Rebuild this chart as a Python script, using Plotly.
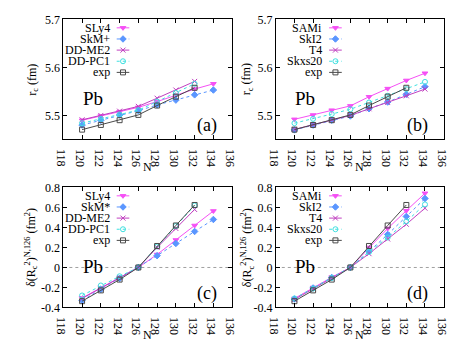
import plotly.graph_objects as go

# neutron numbers
N = [120, 122, 124, 126, 128, 130, 132, 134]
N_exp = [120, 122, 124, 126, 128, 130, 132]

# (a) charge radii r_c (fm)
sly4_r = [5.490, 5.499, 5.508, 5.517, 5.529, 5.542, 5.555, 5.566]
skmp_r = [5.480, 5.490, 5.501, 5.510, 5.522, 5.532, 5.543, 5.553]
ddme2_r = [5.491, 5.500, 5.509, 5.519, 5.536, 5.553, 5.571]
ddpc1_r = [5.484, 5.493, 5.502, 5.511, 5.529, 5.547, 5.566]
exp_r = [5.4705, 5.4803, 5.4902, 5.5012, 5.5207, 5.5392, 5.5577]

# (b) charge radii r_c (fm)
sami_r = [5.492, 5.501, 5.511, 5.520, 5.539, 5.556, 5.573, 5.588]
ski2_r = [5.470, 5.480, 5.490, 5.499, 5.514, 5.528, 5.544, 5.560]
t4_r = [5.471, 5.481, 5.491, 5.500, 5.514, 5.527, 5.541, 5.555]
skxs20_r = [5.484, 5.493, 5.503, 5.513, 5.527, 5.541, 5.555, 5.570]

# (c) differential radii d<r^2> (fm^2)
sly4_d = [-0.305, -0.205, -0.100, 0, 0.130, 0.275, 0.420, 0.565]
skms_d = [-0.330, -0.220, -0.110, 0, 0.118, 0.240, 0.360, 0.480]
ddme2_d = [-0.310, -0.205, -0.100, 0, 0.200, 0.390, 0.580]
ddpc1_d = [-0.280, -0.180, -0.088, 0, 0.210, 0.415, 0.620]
exp_d = [-0.337, -0.229, -0.121, 0, 0.215, 0.420, 0.625]

# (d) differential radii d<r^2> (fm^2)
sami_d = [-0.310, -0.200, -0.098, 0, 0.200, 0.390, 0.568, 0.742]
ski2_d = [-0.315, -0.205, -0.100, 0, 0.160, 0.330, 0.510, 0.690]
t4_d = [-0.320, -0.215, -0.105, 0, 0.138, 0.285, 0.432, 0.593]
skxs20_d = [-0.310, -0.210, -0.105, 0, 0.155, 0.300, 0.460, 0.631]

x_ticks = [118, 120, 122, 124, 126, 128, 130, 132, 134, 136]
r_ticks = [5.5, 5.6, 5.7]
r_ticktext = ["5.5", "5.6", "5.7"]
d_ticks = [-0.4, -0.2, 0, 0.2, 0.4, 0.6, 0.8]
d_ticktext = ["-0.4", "-0.2", "0", "0.2", "0.4", "0.6", "0.8"]

MAG = "#f550f5"
BLUE = "#5a96ff"
PURP = "#c040c0"
CYAN = "#3ee0e0"
GREY = "#4a4a4a"

styles = {
    "tri": dict(color=MAG, symbol="triangle-down", dash="solid", size=5),
    "dia": dict(color=BLUE, symbol="diamond", dash="dot", size=5),
    "x": dict(color=PURP, symbol="x-thin-open", dash="solid", size=5),
    "circ": dict(color=CYAN, symbol="circle-open", dash="dot", size=5),
    "sq": dict(color=GREY, symbol="square-open", dash="solid", size=5),
}

R_TITLE = "r<sub>c</sub> (fm)"
D_TITLE = "δ(R<sub>c</sub><sup>2</sup>)<sup>N,126</sup> (fm<sup>2</sup>)"

panels = [
    ("x", "y", [("SLy4", N, sly4_r, "tri"), ("SkM+", N, skmp_r, "dia"),
                ("DD-ME2", N_exp, ddme2_r, "x"), ("DD-PC1", N_exp, ddpc1_r, "circ"),
                ("exp", N_exp, exp_r, "sq")], "(a)"),
    ("x2", "y2", [("SAMi", N, sami_r, "tri"), ("SkI2", N, ski2_r, "dia"),
                  ("T4", N, t4_r, "x"), ("Skxs20", N, skxs20_r, "circ"),
                  ("exp", N_exp, exp_r, "sq")], "(b)"),
    ("x3", "y3", [("SLy4", N, sly4_d, "tri"), ("SkM*", N, skms_d, "dia"),
                  ("DD-ME2", N_exp, ddme2_d, "x"), ("DD-PC1", N_exp, ddpc1_d, "circ"),
                  ("exp", N_exp, exp_d, "sq")], "(c)"),
    ("x4", "y4", [("SAMi", N, sami_d, "tri"), ("SkI2", N, ski2_d, "dia"),
                  ("T4", N, t4_d, "x"), ("Skxs20", N, skxs20_d, "circ"),
                  ("exp", N_exp, exp_d, "sq")], "(d)"),
]

W, H = 469, 350
# plot boxes in pixels: (left, right, top, bottom) and y-title x position
boxes = [(56, 230, 13, 138, 25), (275, 448, 13, 138, 246),
         (56, 230, 188, 313, 23), (275, 448, 188, 313, 246)]

FONT = "Liberation Serif, Times New Roman, serif"
fig = go.Figure()
layout = dict(width=W, height=H, margin=dict(l=0, r=0, t=0, b=0),
              paper_bgcolor="white", plot_bgcolor="white", showlegend=False,
              font=dict(family=FONT, size=12, color="black"))
annotations = []
shapes = []

for i, (xa, ya, series, tag) in enumerate(panels):
    k = i + 1
    l, r, t, b, ytx = boxes[i]
    xdom = [l / W, r / W]
    ydom = [1 - b / H, 1 - t / H]
    pw, ph = r - l, b - t
    sfx = "" if k == 1 else str(k)
    ov = str(k + 4)
    axis_common = dict(showline=True, linecolor="black", linewidth=1, mirror="allticks",
                       ticks="inside", ticklen=4, tickcolor="black", showgrid=False,
                       zeroline=False, tickfont=dict(family=FONT, size=12))
    layout["xaxis" + sfx] = dict(domain=xdom, anchor="y" + sfx, range=[118, 136],
                                 tickvals=x_ticks, **axis_common)
    if k <= 2:
        layout["yaxis" + sfx] = dict(domain=ydom, anchor="x" + sfx, range=[5.45, 5.7],
                                     tickvals=r_ticks, ticktext=r_ticktext, **axis_common)
        ytitle = R_TITLE
    else:
        layout["yaxis" + sfx] = dict(domain=ydom, anchor="x" + sfx, range=[-0.4, 0.8],
                                     tickvals=d_ticks, ticktext=d_ticktext, **axis_common)
        ytitle = D_TITLE
        shapes.append(dict(type="line", xref=xa + " domain", yref=ya, x0=0, x1=1, y0=0, y1=0,
                           line=dict(color="#a0a0a0", width=1, dash="dot"), layer="below"))

    # axis titles
    annotations.append(dict(x=(l + r) / 2 / W, y=1 - (b + 29) / H, xref="paper", yref="paper",
                            text="N", showarrow=False, xanchor="center", yanchor="middle",
                            font=dict(family=FONT, size=12)))
    annotations.append(dict(x=ytx / W, y=1 - (t + b) / 2 / H, xref="paper", yref="paper",
                            text=ytitle, textangle=-90, showarrow=False,
                            xanchor="center", yanchor="middle",
                            font=dict(family=FONT, size=12)))

    # overlay axes in pixel units of the plot box, used for the key and labels
    layout["xaxis" + ov] = dict(overlaying=xa, anchor="y" + ov, range=[0, pw], visible=False)
    layout["yaxis" + ov] = dict(overlaying=ya, anchor="x" + ov, range=[ph, 0], visible=False)

    for j, (name, xs, ys, st) in enumerate(series):
        s = styles[st]
        fig.add_trace(go.Scatter(
            x=xs, y=ys, xaxis=xa, yaxis=ya, mode="lines+markers", name=name,
            line=dict(color=s["color"], width=1, dash=s["dash"]),
            marker=dict(symbol=s["symbol"], size=s["size"], color=s["color"],
                        line=dict(color=s["color"], width=1)),
            hoverinfo="skip"))
        # key entry: text right-aligned, sample on the right
        yk = 8.7 + 11.6 * j
        fig.add_trace(go.Scatter(
            x=[55, 68], y=[yk, yk], xaxis="x" + ov, yaxis="y" + ov,
            mode="lines", line=dict(color=s["color"], width=1, dash=s["dash"]),
            hoverinfo="skip"))
        fig.add_trace(go.Scatter(
            x=[61.5], y=[yk], xaxis="x" + ov, yaxis="y" + ov, mode="markers",
            marker=dict(symbol=s["symbol"], size=s["size"], color=s["color"],
                        line=dict(color=s["color"], width=1)),
            hoverinfo="skip"))
        annotations.append(dict(x=50, y=yk, xref="x" + ov, yref="y" + ov, text=name,
                                showarrow=False, xanchor="right", yanchor="middle",
                                font=dict(family=FONT, size=12)))

    annotations.append(dict(x=18, y=82, xref="x" + ov, yref="y" + ov, text="Pb",
                            showarrow=False, xanchor="left", yanchor="middle",
                            font=dict(family=FONT, size=19)))
    annotations.append(dict(x=pw - 14, y=110, xref="x" + ov, yref="y" + ov, text=tag,
                            showarrow=False, xanchor="right", yanchor="middle",
                            font=dict(family=FONT, size=18)))

layout["annotations"] = annotations
layout["shapes"] = shapes
fig.update_layout(**layout)
# drop the default body margin so the figure sits at the page corner
fig.write_html("out.html", config={"displayModeBar": False},
               post_script="document.body.style.margin='0';")
